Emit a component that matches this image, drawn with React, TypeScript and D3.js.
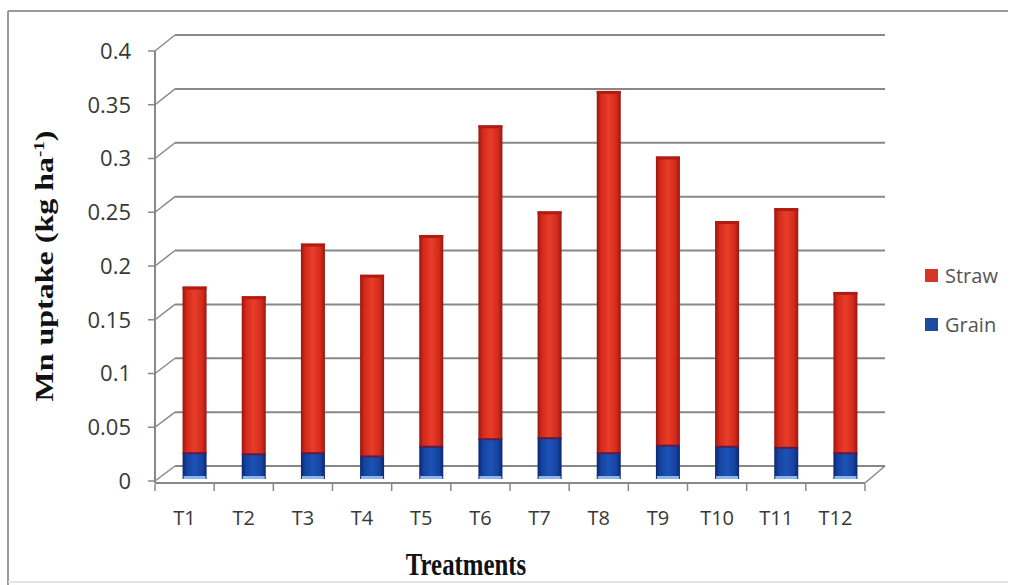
import React from "react";
import * as d3 from "d3";

const categories = ["T1", "T2", "T3", "T4", "T5", "T6", "T7", "T8", "T9", "T10", "T11", "T12"];
const grain = [0.024, 0.023, 0.024, 0.021, 0.030, 0.037, 0.038, 0.024, 0.031, 0.030, 0.029, 0.024];
const straw = [0.155, 0.147, 0.195, 0.169, 0.197, 0.292, 0.211, 0.337, 0.269, 0.210, 0.223, 0.150];
const yTicks = [0, 0.05, 0.1, 0.15, 0.2, 0.25, 0.3, 0.35, 0.4];
const seriesNames = ["Straw", "Grain"];

const W = 1028;
const H = 585;
const DX = 20;
const DY = -15;

export default function App() {
  const x = d3.scaleBand<string>().domain(categories).range([155, 865]).paddingInner(0).paddingOuter(0);
  const yFront = d3.scaleLinear().domain([0, 0.4]).range([481, 51]);
  const yBack = d3.scaleLinear().domain([0, 0.4]).range([466, 35]);
  const yBar = d3.scaleLinear().domain([0, 0.4]).range([479, 49]);
  const barW = 24;
  const grid = "#888888";

  const stacked = d3.stack<any>().keys(["grain", "straw"])(
    categories.map((c, i) => ({ cat: c, grain: grain[i], straw: straw[i] }))
  );

  return (
    <svg width={W} height={H} style={{ position: "absolute", left: 0, top: 0, background: "#fff" }}>
      <defs>
        <linearGradient id="gRed" x1="0" x2="1" y1="0" y2="0">
          <stop offset="0%" stopColor="#9a140c" />
          <stop offset="18%" stopColor="#d42a1c" />
          <stop offset="50%" stopColor="#e83d28" />
          <stop offset="82%" stopColor="#d42a1c" />
          <stop offset="100%" stopColor="#961810" />
        </linearGradient>
        <linearGradient id="gBlue" x1="0" x2="1" y1="0" y2="0">
          <stop offset="0%" stopColor="#0a2670" />
          <stop offset="18%" stopColor="#1543a0" />
          <stop offset="50%" stopColor="#1d52b6" />
          <stop offset="82%" stopColor="#1543a0" />
          <stop offset="100%" stopColor="#0a2670" />
        </linearGradient>
      </defs>
      <rect x={0} y={0} width={W} height={H} fill="#fff" />
      {/* outer border */}
      <line x1={8} y1={11} x2={1008} y2={11} stroke="#9a9a9a" strokeWidth={2} />
      <line x1={8} y1={11} x2={8} y2={585} stroke="#9a9a9a" strokeWidth={2} />
      <line x1={8} y1={582} x2={1008} y2={582} stroke="#dcdcdc" strokeWidth={1.5} />

      {/* back wall gridlines with side diagonals */}
      {yTicks.map((t) => (
        <g key={"g" + t}>
          <line x1={155} y1={yFront(t)} x2={155 + DX} y2={yBack(t)} stroke={grid} strokeWidth={1.5} />
          <line x1={155 + DX} y1={yBack(t)} x2={865 + DX} y2={yBack(t)} stroke={grid} strokeWidth={2} />
          <line x1={148} y1={yFront(t)} x2={155} y2={yFront(t)} stroke={grid} strokeWidth={1.5} />
          <text
            x={131}
            y={yFront(t)}
            dy="0.36em"
            textAnchor="end"
            fontFamily="Open Sans, sans-serif"
            fontSize={22}
            fontWeight={500}
            fill="#383838"
          >
            {String(t)}
          </text>
        </g>
      ))}
      {/* floor */}
      <line x1={155} y1={483} x2={865} y2={483} stroke={grid} strokeWidth={2} />
      <line x1={865} y1={483} x2={865 + DX} y2={483 + DY - 2} stroke={grid} strokeWidth={1.5} />
      {/* front y axis */}
      <line x1={155} y1={51} x2={155} y2={483} stroke={grid} strokeWidth={2} />

      {/* x ticks */}
      {categories.map((c) => (
        <line key={"xt" + c} x1={(x(c) as number) + x.bandwidth()} y1={484} x2={(x(c) as number) + x.bandwidth()} y2={491} stroke={grid} strokeWidth={1.5} />
      ))}
      <line x1={155} y1={484} x2={155} y2={491} stroke={grid} strokeWidth={1.5} />

      {/* bars */}
      {stacked.map((s, si) =>
        s.map((d, i) => {
          const cx = (x(categories[i]) as number) + x.bandwidth() / 2 + 10;
          const y0 = yBar(d[0]);
          const y1 = yBar(d[1]);
          const isGrain = si === 0;
          return (
            <g key={"b" + si + "-" + i}>
              <rect x={cx - barW / 2} y={y1} width={barW} height={y0 - y1} fill={isGrain ? "url(#gBlue)" : "url(#gRed)"} />
              {isGrain ? (
                <rect x={cx - barW / 2 + 1} y={y0 - 3} width={barW - 2} height={3} fill="#8fb6e6" />
              ) : (
                <>
                  <rect x={cx - barW / 2} y={y1} width={barW} height={3} fill="#b01c14" />
                  <rect x={cx - barW / 2} y={y0 - 1} width={barW} height={2} fill="#5a1c4a" />
                </>
              )}
            </g>
          );
        })
      )}

      {/* x labels */}
      {categories.map((c) => (
        <text
          key={"xl" + c}
          x={(x(c) as number) + x.bandwidth() / 2}
          y={518}
          dy="0.36em"
          textAnchor="middle"
          fontFamily="Open Sans, sans-serif"
          fontSize={20}
          fontWeight={500}
          fill="#383838"
        >
          {c}
        </text>
      ))}

      {/* axis titles */}
      <g transform="translate(53,266) scale(0.82,1) rotate(-90)">
        <text textAnchor="middle" fontFamily="Liberation Serif, serif" fontWeight="bold" fontSize={32} fill="#111">
          Mn uptake (kg ha
          <tspan dy={-11} fontSize={19}>-1</tspan>
          <tspan dy={11}>)</tspan>
        </text>
      </g>
      <g transform="translate(466,575) scale(0.8,1)">
        <text textAnchor="middle" fontFamily="Liberation Serif, serif" fontWeight="bold" fontSize={31} fill="#111">
          Treatments
        </text>
      </g>

      {/* legend */}
      {seriesNames.map((n, i) => (
        <g key={"lg" + n} transform={`translate(925,${269 + i * 49})`}>
          <rect x={0} y={0} width={13} height={13} fill={i === 0 ? "#d8352a" : "#1d4a9e"} />
          <text x={20} y={7} dy="0.36em" fontFamily="Open Sans, sans-serif" fontSize={20} fill="#555555">
            {n}
          </text>
        </g>
      ))}
    </svg>
  );
}
